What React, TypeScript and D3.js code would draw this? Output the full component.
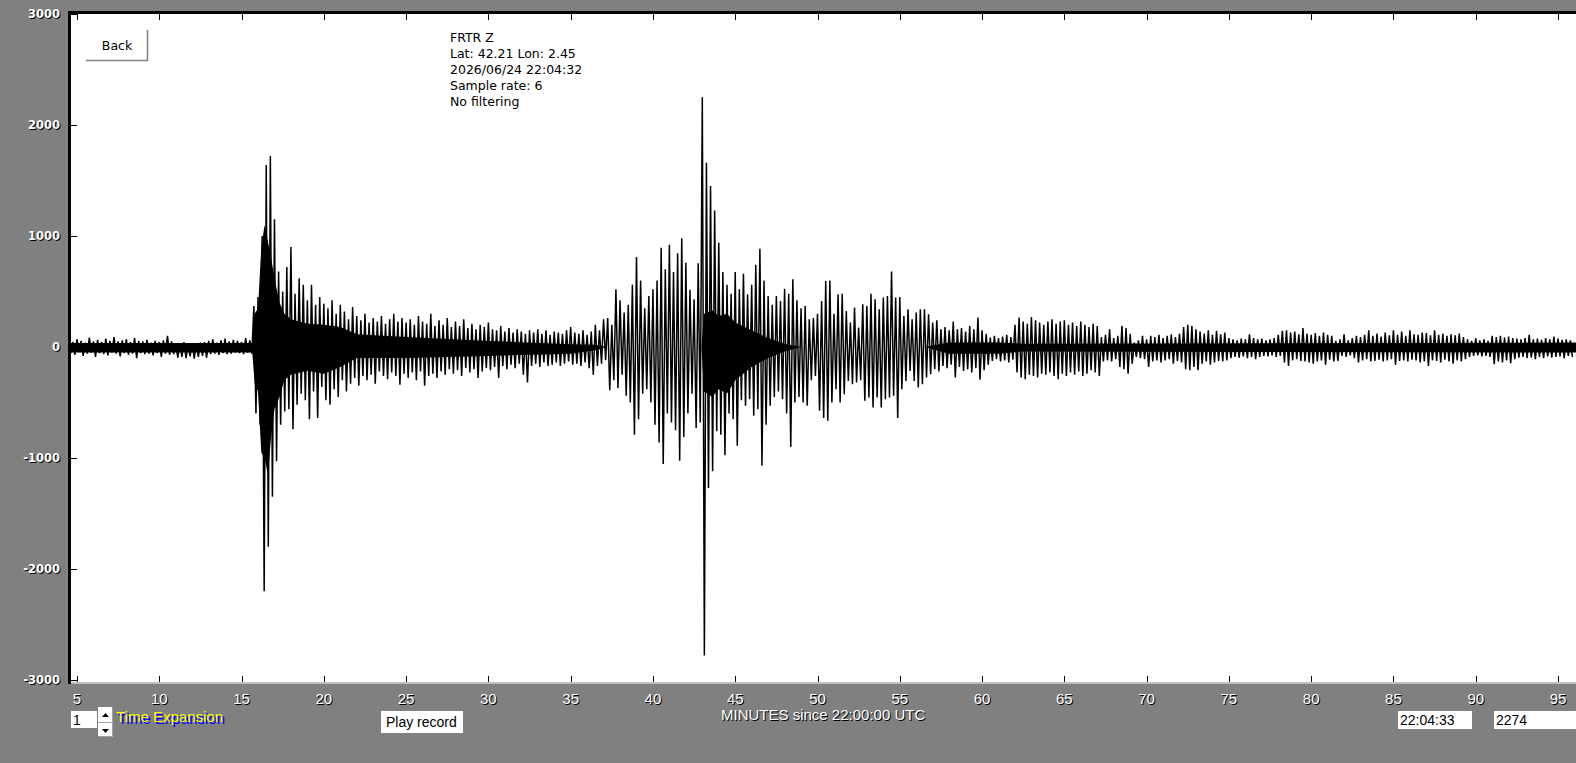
import React, { useEffect, useRef } from 'react';
import * as d3 from 'd3';

const WIDTH = 1576;
const HEIGHT = 763;

const xTicks = [5, 10, 15, 20, 25, 30, 35, 40, 45, 50, 55, 60, 65, 70, 75, 80, 85, 90, 95];
const yTicks = [3000, 2000, 1000, 0, -1000, -2000, -3000];
const headerLines = ['FRTR  Z', 'Lat: 42.21 Lon: 2.45', '2026/06/24 22:04:32', 'Sample rate: 6', 'No filtering'];

// trace: one upper and one lower peak per quarter minute
const traceStart = 4.5;
const traceStep = 0.25;

const upperPeaks = [
  60, 45, 70, 55, 40, 85, 50, 65, 45, 75, 55, 90, 50, 60, 70, 45, 80, 55, 50, 65,
  40, 55, 45, 60, 100, 50, 30, 25, 45, 20, 35, 30, 40, 45, 55, 70, 40, 60, 75, 50,
  65, 55, 45, 80, 60,
  370, 450, 1000, 1640, 1720, 1150, 680, 500, 720, 900, 480, 620, 560, 420, 560, 380, 450, 390,
  350, 420, 300, 380, 320, 250, 360, 280, 240, 300, 220, 260, 230, 280, 210, 250, 300, 230, 260, 220,
  250, 200, 280, 230, 210, 300, 190, 240, 200, 260, 180, 230, 190, 250, 170, 210, 160, 200, 180, 220,
  160, 150, 190, 140, 170, 130, 160, 140, 120, 150, 130, 160, 120, 150, 110, 140, 130, 120, 150, 180,
  130, 120, 150, 110, 140, 200, 150,
  250, 260, 200, 520, 420, 310, 380, 560, 810, 600, 350, 460, 520, 600, 895, 700, 920, 675, 845, 980,
  760, 515, 430, 755, 2250, 1660, 1450, 1230, 940, 675, 560, 480, 675, 520, 660, 475, 560, 740, 885, 600,
  460, 380, 460, 415, 525, 480, 610, 420, 350,
  370, 250, 260, 300, 415, 595, 600, 300, 475, 480, 325, 220, 355, 175, 385, 370, 480, 430, 340, 445,
  460, 680, 445, 450, 280, 340, 250, 310, 340, 340, 295, 220, 240, 160, 180, 150, 230, 160, 170, 140,
  190, 160, 265, 150, 120, 85, 100, 80, 95, 110, 90, 200, 265, 230, 210, 270, 240, 220, 200, 230,
  250, 210, 230, 240, 200, 220, 190, 230, 200, 180, 210, 190,
  90, 110, 160, 80, 100, 190, 170, 120, 40, 60, 100, 70, 100, 90, 110, 80, 100, 115, 90, 120,
  180, 200, 190, 160, 140, 120, 150, 110, 145, 115, 130, 80, 70, 60, 75, 70, 115, 80, 70, 75,
  60, 70, 80, 110, 145, 150, 130, 140, 115, 170, 120, 110, 125, 100, 130, 110, 100,
  55, 70, 115, 60, 80, 100, 90, 110, 150, 100, 120, 95, 130, 105, 150, 110, 140, 100, 150, 115,
  110, 130, 125, 105, 150, 110, 120, 100, 115, 105, 120, 90, 70, 55, 80, 60, 70, 55, 100, 90,
  100, 85, 95, 80, 75, 70, 80, 110, 70, 75, 65, 80, 70, 95, 75, 65, 70, 60,
];

const lowerPeaks = [
  -55, -70, -45, -80, -60, -50, -90, -55, -65, -75, -50, -60, -85, -55, -70, -60, -100, -55, -65, -60,
  -75, -55, -90, -60, -70, -65, -95, -90, -100, -85, -105, -90, -80, -95, -65, -60, -70, -55, -65, -60,
  -50, -55, -65, -50, -60,
  -600, -700, -2200, -1800, -1350, -1030, -700, -580, -560, -740, -520, -420, -480, -650, -400, -640, -360, -480,
  -520, -380, -450, -300, -400, -330, -280, -350, -260, -300, -250, -330, -220, -260, -290, -230, -260, -340, -240, -280,
  -230, -300, -220, -350, -260, -240, -280, -220, -250, -200, -240, -210, -260, -190, -230, -200, -280, -220, -190, -210,
  -180, -280, -170, -200, -160, -190, -150, -250, -320, -170, -150, -180, -140, -170, -160, -140, -170, -150, -130, -160,
  -150, -170, -140, -190, -250, -170, -150,
  -120, -390, -300, -370, -250, -440, -500, -790, -650, -420, -380, -500, -700, -860, -1055, -600, -680, -750, -1025, -810,
  -600, -420, -730, -680, -2780, -1270, -1120, -760, -790, -975, -600, -650, -890, -480, -530, -470, -620, -560, -1070, -700,
  -530, -450, -400, -470, -600, -900, -500, -450, -500,
  -530, -300, -260, -575, -640, -665, -500, -380, -500, -425, -305, -335, -320, -300, -485, -455, -545, -455, -545, -470,
  -455, -440, -640, -380, -305, -215, -305, -365, -335, -275, -245, -200, -220, -170, -190, -160, -275, -180, -215, -200,
  -230, -190, -295, -210, -160, -125, -110, -130, -120, -140, -115, -230, -275, -290, -250, -260, -275, -240, -250, -230,
  -260, -290, -240, -260, -230, -250, -220, -260, -240, -210, -230, -260,
  -130, -120, -130, -110, -180, -200, -240, -150, -90, -100, -110, -180, -130, -120, -140, -120, -110, -150, -125, -140,
  -200, -210, -180, -210, -150, -130, -160, -140, -125, -130, -120, -100, -90, -95, -85, -100, -90, -110, -90, -80,
  -85, -75, -90, -80, -140, -170, -120, -110, -125, -130, -140, -150, -130, -120, -160, -115, -130,
  -125, -80, -90, -75, -100, -140, -120, -110, -130, -125, -115, -130, -120, -110, -160, -125, -120, -130, -115, -120,
  -140, -130, -170, -120, -125, -140, -115, -130, -150, -120, -130, -110, -90, -80, -75, -85, -80, -90, -155, -130,
  -140, -120, -145, -110, -95, -90, -100, -95, -110, -90, -100, -85, -95, -90, -85, -100, -80, -90,
];

// solid black band where the trace is too dense to see single swings
const coreMinutes = [4.5, 15.65, 15.8, 16.0, 16.2, 16.4, 16.6, 16.8, 17.0, 17.3, 17.6, 18, 19, 20, 21, 22, 25, 30, 35, 36.5, 37.2, 42.95, 43.1, 43.6, 44, 44.5, 45, 46, 47, 48, 49, 56.5, 58, 61, 62.5, 96.2];
const coreHigh = [35, 35, 300, 350, 900, 1100, 950, 800, 620, 400, 300, 250, 210, 200, 180, 115, 90, 55, 25, 20, 0, 0, 300, 330, 280, 300, 220, 150, 80, 30, 0, 0, 40, 40, 30, 40];
const coreLow = [-50, -50, -330, -400, -950, -1000, -1150, -800, -560, -450, -300, -250, -215, -240, -180, -100, -100, -80, -60, -30, 0, 0, -400, -450, -380, -420, -300, -180, -100, -40, 0, 0, -60, -60, -40, -50];

const App = () => {
  const svgRef = useRef(null);

  useEffect(() => {
    const svg = d3.select(svgRef.current);
    svg.selectAll('*').remove();

    const x = d3.scaleLinear().domain([5, 95]).range([77, 1558]);
    const y = d3.scaleLinear().domain([-3000, 3000]).range([680, 14]);

    const plotLeft = 71;
    const plotTop = 14;
    const plotBottom = 682;

    svg.append('rect').attr('width', WIDTH).attr('height', HEIGHT).attr('fill', '#808080');
    svg.append('rect')
      .attr('x', plotLeft).attr('y', plotTop)
      .attr('width', WIDTH - plotLeft).attr('height', plotBottom - plotTop)
      .attr('fill', '#fff');

    svg.append('defs').append('clipPath').attr('id', 'plot-clip')
      .append('rect')
      .attr('x', plotLeft).attr('y', plotTop)
      .attr('width', WIDTH - plotLeft).attr('height', plotBottom - plotTop);

    const plot = svg.append('g').attr('clip-path', 'url(#plot-clip)');

    const core = d3.area()
      //@ts-ignore
      .x((d, i) => x(coreMinutes[i]))
      //@ts-ignore
      .y0((d, i) => y(coreLow[i]))
      //@ts-ignore
      .y1((d, i) => y(coreHigh[i]));
    plot.append('path')
      //@ts-ignore
      .attr('d', core(coreMinutes))
      .attr('fill', '#000');

    const points = upperPeaks.flatMap((hi, i) => {
      const t = traceStart + i * traceStep;
      return [[t, hi], [t + traceStep / 2, lowerPeaks[i]]];
    });
    const line = d3.line()
      .x(d => x(d[0]))
      .y(d => y(d[1]));
    plot.append('path')
      //@ts-ignore
      .attr('d', line(points))
      .attr('fill', 'none')
      .attr('stroke', '#000')
      .attr('stroke-width', 1.5)
      .attr('stroke-linejoin', 'miter')
      .attr('stroke-miterlimit', 1);

    // frame
    svg.append('rect').attr('x', 68).attr('y', 11).attr('width', WIDTH - 68).attr('height', 3).attr('fill', '#000');
    svg.append('rect').attr('x', 68).attr('y', 11).attr('width', 3).attr('height', 673).attr('fill', '#000');
    svg.append('rect').attr('x', 71).attr('y', plotBottom).attr('width', WIDTH - 71).attr('height', 2).attr('fill', '#c0c0c0');

    const ticks = svg.append('g').attr('stroke', '#000').attr('shape-rendering', 'crispEdges');
    xTicks.forEach(t => {
      const px = Math.round(x(t)) + 0.5;
      ticks.append('line').attr('x1', px).attr('x2', px).attr('y1', plotTop).attr('y2', plotTop + 6);
      ticks.append('line').attr('x1', px).attr('x2', px).attr('y1', plotBottom).attr('y2', plotBottom - 6);
    });
    yTicks.forEach(v => {
      const py = Math.round(y(v)) + 0.5;
      ticks.append('line').attr('x1', plotLeft).attr('x2', plotLeft + 6).attr('y1', py).attr('y2', py);
    });

    const shadowText = (g, tx, ty, str, fill, shadow, dx, dy) => {
      g.append('text').attr('x', tx + dx).attr('y', ty + dy).attr('fill', shadow).text(str);
      g.append('text').attr('x', tx).attr('y', ty).attr('fill', fill).text(str);
    };

    const yLabels = svg.append('g')
      .attr('font-family', '"DejaVu Sans", sans-serif')
      .attr('font-weight', 'bold')
      .attr('font-size', 11.5)
      .attr('text-anchor', 'end');
    yTicks.forEach(v => shadowText(yLabels, 60, y(v) + 4, String(v), '#fff', '#000', 1, 1));

    const xLabels = svg.append('g')
      .attr('font-family', '"Liberation Sans", Arial, sans-serif')
      .attr('font-size', 15)
      .attr('text-anchor', 'middle');
    xTicks.forEach(t => shadowText(xLabels, x(t), 704, String(t), '#fff', '#000', 1, 1));

    const caption = svg.append('g')
      .attr('font-family', '"Liberation Sans", Arial, sans-serif')
      .attr('font-size', 15);
    shadowText(caption, 721, 720, 'MINUTES since 22:00:00 UTC', '#fff', '#000', 1, 1);

    const header = svg.append('g')
      .attr('font-family', '"DejaVu Sans", sans-serif')
      .attr('font-size', 12.5)
      .attr('fill', '#000')
      .style('white-space', 'pre');
    headerLines.forEach((s, i) => {
      header.append('text').attr('x', 450).attr('y', 42 + i * 16).text(s);
    });

    // Back button
    const back = svg.append('g');
    back.append('rect').attr('x', 86).attr('y', 30).attr('width', 62).attr('height', 31).attr('fill', '#fff');
    back.append('path').attr('d', 'M86,60.5H147.5V30').attr('fill', 'none').attr('stroke', '#808080').attr('stroke-width', 1.5);
    back.append('text').attr('x', 117).attr('y', 50)
      .attr('text-anchor', 'middle')
      .attr('font-family', '"DejaVu Sans", sans-serif')
      .attr('font-size', 12.5)
      .text('Back');

    // bottom controls
    const ctl = svg.append('g').attr('font-family', '"Liberation Sans", Arial, sans-serif');
    ctl.append('rect').attr('x', 71).attr('y', 711).attr('width', 26).attr('height', 17).attr('fill', '#fff');
    ctl.append('text').attr('x', 73).attr('y', 725).attr('font-size', 14).text('1');

    [[98, 707, 16], [98, 723, 14]].forEach(([bx, by, bh]) => {
      ctl.append('rect').attr('x', bx).attr('y', by).attr('width', 15).attr('height', bh).attr('fill', '#fff');
      ctl.append('path')
        .attr('d', `M${bx},${by + bh - 0.5}H${bx + 14.5}V${by}`)
        .attr('fill', 'none').attr('stroke', '#a0a0a0');
    });
    ctl.append('path').attr('d', 'M102,717L105.5,713L109,717Z').attr('fill', '#000');
    ctl.append('path').attr('d', 'M102,729L105.5,733L109,729Z').attr('fill', '#000');

    const te = svg.append('g').attr('font-family', '"Liberation Sans", Arial, sans-serif').attr('font-size', 15);
    shadowText(te, 116, 722, 'Time Expansion', '#ffff00', '#0000ff', 2, 2);

    ctl.append('rect').attr('x', 381).attr('y', 711).attr('width', 82).attr('height', 22).attr('fill', '#fff');
    ctl.append('text').attr('x', 386).attr('y', 727).attr('font-size', 14).text('Play record');

    ctl.append('rect').attr('x', 1398).attr('y', 711).attr('width', 74).attr('height', 18).attr('fill', '#fff');
    ctl.append('text').attr('x', 1400).attr('y', 725).attr('font-size', 14).text('22:04:33');
    ctl.append('rect').attr('x', 1494).attr('y', 711).attr('width', WIDTH - 1494).attr('height', 18).attr('fill', '#fff');
    ctl.append('text').attr('x', 1496).attr('y', 725).attr('font-size', 14).text('2274');
  }, []);

  return (
    <div style={{ position: 'absolute', left: 0, top: 0, width: WIDTH, height: HEIGHT, background: '#808080' }}>
      <svg ref={svgRef} width={WIDTH} height={HEIGHT} style={{ display: 'block' }}></svg>
    </div>
  );
};

export default App;
